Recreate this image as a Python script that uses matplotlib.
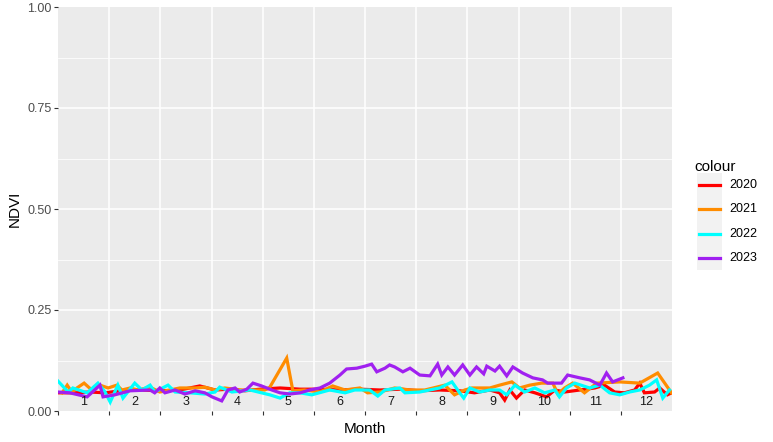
import numpy as np
import matplotlib
matplotlib.use("Agg")
import matplotlib.pyplot as plt
from matplotlib.lines import Line2D
from matplotlib.patches import Rectangle

plt.rcParams['font.family'] = ['Liberation Sans', 'DejaVu Sans']

# x = position in months (1..12 centred on label), y = NDVI
x_2020 = [0.50, 0.83, 1.13, 1.42, 1.71, 2.10, 2.49, 2.88, 3.27, 3.57, 3.86, 4.15, 4.45, 4.84,
          5.23, 5.62, 6.01, 6.40, 6.79, 7.18, 7.57, 7.96, 8.35, 8.64, 8.94, 9.13, 9.23, 9.33,
          9.46, 9.62, 9.82, 10.05, 10.21, 10.40, 10.70, 10.99, 11.18, 11.38, 11.57, 11.77,
          11.87, 11.96, 12.16, 12.26, 12.41, 12.49]
y_2020 = [0.045, 0.045, 0.047, 0.045, 0.050, 0.052, 0.050, 0.052, 0.062, 0.052, 0.054, 0.050,
          0.054, 0.057, 0.054, 0.054, 0.052, 0.054, 0.052, 0.054, 0.050, 0.052, 0.050, 0.045,
          0.052, 0.045, 0.027, 0.052, 0.032, 0.052, 0.045, 0.035, 0.052, 0.047, 0.052, 0.057,
          0.064, 0.047, 0.045, 0.052, 0.069, 0.045, 0.047, 0.057, 0.040, 0.045]

x_2021 = [0.58, 0.68, 0.77, 0.87, 1.01, 1.16, 1.32, 1.48, 1.65, 1.75, 1.91, 2.06, 2.30, 2.49,
          2.69, 2.88, 3.18, 3.37, 3.57, 3.76, 4.05, 4.35, 4.54, 4.64, 4.97, 5.09, 5.32, 5.62,
          5.87, 6.11, 6.40, 6.55, 6.79, 7.08, 7.38, 7.67, 8.06, 8.25, 8.45, 8.59, 8.94, 9.13,
          9.37, 9.52, 9.72, 9.95, 10.17, 10.27, 10.40, 10.56, 10.79, 11.03, 11.48, 11.87,
          12.22, 12.49]
y_2021 = [0.045, 0.064, 0.047, 0.057, 0.069, 0.052, 0.064, 0.057, 0.064, 0.052, 0.057, 0.052,
          0.059, 0.047, 0.052, 0.057, 0.057, 0.059, 0.052, 0.057, 0.052, 0.052, 0.052, 0.059,
          0.131, 0.050, 0.052, 0.047, 0.062, 0.052, 0.057, 0.045, 0.047, 0.057, 0.052, 0.052,
          0.064, 0.040, 0.052, 0.057, 0.057, 0.064, 0.072, 0.057, 0.064, 0.069, 0.069, 0.042,
          0.057, 0.069, 0.045, 0.069, 0.072, 0.069, 0.094, 0.045]

x_2022 = [0.50, 0.70, 0.79, 1.07, 1.28, 1.42, 1.52, 1.67, 1.77, 2.00, 2.14, 2.30, 2.39, 2.65,
          2.79, 3.08, 3.37, 3.57, 3.66, 3.90, 4.25, 4.64, 4.84, 5.03, 5.23, 5.46, 5.81, 6.11,
          6.30, 6.59, 6.75, 6.89, 7.18, 7.28, 7.57, 7.96, 8.20, 8.35, 8.43, 8.55, 8.74, 8.94,
          9.13, 9.27, 9.43, 9.62, 9.82, 10.01, 10.21, 10.30, 10.44, 10.60, 10.89, 11.09, 11.28,
          11.48, 11.67, 11.87, 12.06, 12.20, 12.32, 12.45]
y_2022 = [0.074, 0.047, 0.057, 0.045, 0.069, 0.047, 0.022, 0.064, 0.032, 0.069, 0.052, 0.064,
          0.047, 0.064, 0.047, 0.045, 0.042, 0.047, 0.059, 0.047, 0.052, 0.040, 0.032, 0.045,
          0.045, 0.040, 0.052, 0.045, 0.052, 0.052, 0.037, 0.052, 0.057, 0.045, 0.047, 0.057,
          0.072, 0.045, 0.032, 0.057, 0.047, 0.052, 0.052, 0.040, 0.064, 0.047, 0.057, 0.045,
          0.052, 0.035, 0.057, 0.069, 0.057, 0.064, 0.045, 0.040, 0.047, 0.052, 0.064, 0.077,
          0.032, 0.052]

x_2023 = [0.50, 0.73, 1.07, 1.32, 1.38, 1.61, 1.91, 2.30, 2.39, 2.49, 2.59, 2.79, 2.98, 3.18,
          3.37, 3.51, 3.70, 3.82, 3.96, 4.05, 4.19, 4.31, 4.48, 4.68, 4.84, 5.03, 5.23, 5.42,
          5.62, 5.81, 6.01, 6.14, 6.34, 6.50, 6.63, 6.73, 6.89, 6.98, 7.08, 7.24, 7.38, 7.57,
          7.77, 7.92, 8.00, 8.12, 8.25, 8.41, 8.55, 8.68, 8.82, 8.88, 9.04, 9.13, 9.27, 9.39,
          9.58, 9.78, 9.97, 10.07, 10.34, 10.46, 10.70, 10.89, 11.09, 11.22, 11.34, 11.54]
y_2023 = [0.047, 0.045, 0.035, 0.064, 0.035, 0.040, 0.050, 0.052, 0.045, 0.057, 0.045, 0.052,
          0.042, 0.050, 0.045, 0.035, 0.025, 0.052, 0.057, 0.047, 0.054, 0.069, 0.062, 0.052,
          0.045, 0.042, 0.045, 0.052, 0.057, 0.069, 0.089, 0.104, 0.106, 0.111, 0.116, 0.097,
          0.106, 0.114, 0.109, 0.097, 0.106, 0.089, 0.087, 0.116, 0.089, 0.109, 0.089, 0.114,
          0.089, 0.109, 0.092, 0.111, 0.099, 0.111, 0.087, 0.109, 0.094, 0.082, 0.077, 0.069,
          0.069, 0.089, 0.082, 0.077, 0.064, 0.094, 0.072, 0.082]

years = ['2020', '2021', '2022', '2023']
colors = ['#FF0000', '#FF8C00', '#00FFFF', '#A020F0']
months = list(range(1, 13))

fig = plt.figure(figsize=(7.73, 4.42), dpi=100)
ax = fig.add_axes([58/773, 1-411/442, 614/773, 404/442])
ax.set_facecolor('#EBEBEB')
for s in ax.spines.values():
    s.set_visible(False)

# grid
for yv in [0.125, 0.375, 0.625, 0.875]:
    ax.axhline(yv, color='white', lw=0.55, zorder=0)
for yv in [0.25, 0.5, 0.75]:
    ax.axhline(yv, color='white', lw=1.1, zorder=0)
for xv in np.arange(1.5, 12, 1):
    ax.axvline(xv, color='white', lw=1.1, zorder=0)

xs = [x_2020, x_2021, x_2022, x_2023]
ys = [y_2020, y_2021, y_2022, y_2023]
for xx, yy, c in zip(xs, ys, colors):
    ax.plot(xx, yy, color=c, lw=2.3, solid_joinstyle='miter', zorder=2)

for m in months:
    ax.text(m, 0.022, str(m), ha='center', va='center', fontsize=9, color='#1A1A1A', zorder=3)

ax.set_xlim(0.5, 12.5)
ax.set_ylim(0, 1)
ax.set_xticks(np.arange(0.5, 12, 1))
ax.set_xticklabels([])
ax.set_yticks([0, 0.25, 0.5, 0.75, 1.0])
ax.set_yticklabels(['0.00', '0.25', '0.50', '0.75', '1.00'])
ax.tick_params(axis='both', length=2.7, width=0.8, color='#333333', labelsize=9,
               labelcolor='#4D4D4D', pad=2)
ax.set_xlabel('Month', fontsize=11, labelpad=3)
ax.set_ylabel('NDVI', fontsize=11, labelpad=4)

# legend
fig.text(694/773, 1-167/442, 'colour', fontsize=11, va='center', ha='left')
key_h = 24.3
top = 173
fig.patches.append(Rectangle((697/773, 1-(top+4*key_h)/442), 25/773, 4*key_h/442,
                             transform=fig.transFigure, facecolor='#F2F2F2', edgecolor='none'))
for i, (yr, c) in enumerate(zip(years, colors)):
    yc = 1-(top+key_h*(i+0.5))/442
    fig.lines.append(Line2D([699/773, 720/773], [yc, yc], transform=fig.transFigure,
                            color=c, lw=2.3))
    fig.text(729/773, yc, yr, fontsize=9, va='center', ha='left')

fig.savefig('out.png', dpi=100)
